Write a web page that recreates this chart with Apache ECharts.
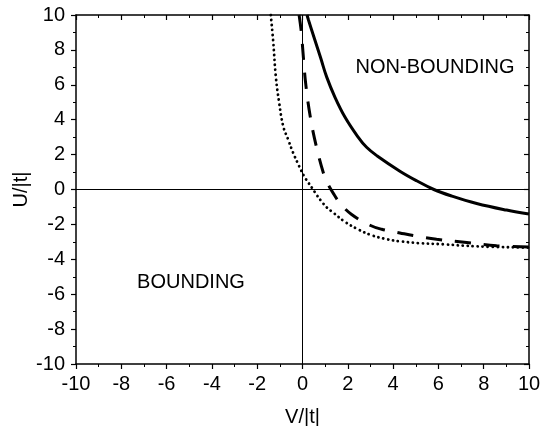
<!DOCTYPE html>
<html>
<head>
<meta charset="utf-8">
<script src="https://cdn.jsdelivr.net/npm/echarts@6/dist/echarts.min.js"></script>
<style>
  html, body { margin: 0; padding: 0; background: #fff; }
  #chart-container { width: 548px; height: 426px; }
</style>
</head>
<body>
<div id="chart-container"></div>
<script>
// curves (V/|t| , U/|t|)
const solidV = [0.2, 0.26, 0.55, 0.80, 1.07, 1.43, 1.88, 2.43, 2.83, 3.3, 4.30, 5.04, 5.8, 6.6, 7.69, 9.01, 10];
const solidU = [10, 9.73, 8.55, 7.55, 6.44, 5.3, 4.14, 3.05, 2.42, 1.92, 1.05, 0.5, 0, -0.38, -0.80, -1.18, -1.41];

const dashV = [-0.15, -0.05, 0.02, 0.14, 0.34, 0.61, 0.98, 1.14, 1.4, 1.66, 2.17, 2.98, 3.5, 4.30, 4.89, 5.92, 7.25, 8.57, 10];
const dashU = [10, 9.0, 7.89, 6.08, 4.2, 2.47, 0.7, 0.26, -0.3, -0.80, -1.43, -2.05, -2.28, -2.49, -2.64, -2.85, -3.04, -3.22, -3.3];

const dotV = [-1.40, -1.29, -1.18, -1.04, -0.85, -0.63, -0.41, -0.21, -0.07, 0.08, 0.26, 0.43, 0.63, 0.85, 1.07, 1.36, 1.88, 2.46, 3.05, 3.72, 4.30, 5.11, 6.22, 7.69, 10];
const dotU = [10, 8.43, 6.5, 5.06, 3.62, 2.85, 2.09, 1.51, 1.12, 0.74, 0.39, 0.07, -0.32, -0.70, -1.03, -1.33, -1.86, -2.29, -2.62, -2.85, -2.97, -3.07, -3.14, -3.26, -3.33];

const axisMin = -10;
const axisMax = 10;
const axisStep = 2;
const xName = 'V/|t|';
const yName = 'U/|t|';
const regionLabels = ['NON-BOUNDING', 'BOUNDING'];

const font = '"Liberation Sans", Arial, sans-serif';

function pairs(xs, ys) {
    return xs.map((x, i) => [x, ys[i]]);
}

function mainAxis(name, isX) {
    return {
        type: 'value',
        min: axisMin, max: axisMax, interval: axisStep,
        position: isX ? 'bottom' : 'left',
        name: name,
        nameLocation: 'middle',
        nameGap: isX ? 43 : 45,
        nameMoveOverlap: false,
        nameTextStyle: { fontFamily: font, fontSize: 20, color: '#000' },
        axisLine: { show: true, onZero: false, lineStyle: { color: '#000', width: 1.5 } },
        axisTick: { show: true, inside: false, length: 5, lineStyle: { color: '#000', width: 1.2 } },
        minorTick: { show: true, splitNumber: 2, length: 3, lineStyle: { color: '#000', width: 1 } },
        axisLabel: { fontFamily: font, fontSize: 20, color: '#000', margin: isX ? 10 : 11 },
        splitLine: { show: false },
        minorSplitLine: { show: false }
    };
}

function mirrorAxis(isX) {
    return {
        type: 'value',
        min: axisMin, max: axisMax, interval: axisStep,
        position: isX ? 'top' : 'right',
        axisLine: { show: true, onZero: false, lineStyle: { color: '#000', width: 1.5 } },
        axisTick: { show: true, inside: true, length: 5, lineStyle: { color: '#000', width: 1.2 } },
        minorTick: { show: true, splitNumber: 2, length: 3, lineStyle: { color: '#000', width: 1 } },
        axisLabel: { show: false },
        splitLine: { show: false }
    };
}

const dom = document.getElementById('chart-container');
const myChart = echarts.init(dom, null, { renderer: 'canvas' });

const curveBase = {
    type: 'line',
    showSymbol: false,
    smooth: 0.4,
    silent: true,
    animation: false,
    clip: true
};

const option = {
    animation: false,
    backgroundColor: '#fff',
    grid: { left: 76, top: 15, width: 453, height: 349, containLabel: false, outerBoundsMode: 'none' },
    xAxis: [mainAxis(xName, true), mirrorAxis(true)],
    yAxis: [mainAxis(yName, false), mirrorAxis(false)],
    series: [
        Object.assign({}, curveBase, {
            name: 'solid',
            data: pairs(solidV, solidU),
            lineStyle: { color: '#000', width: 3 },
            markLine: {
                silent: true,
                symbol: 'none',
                label: { show: false },
                lineStyle: { color: '#000', width: 1, type: 'solid' },
                data: [{ xAxis: 0 }, { yAxis: 0 }]
            }
        }),
        Object.assign({}, curveBase, {
            name: 'dashed',
            data: pairs(dashV, dashU),
            lineStyle: { color: '#000', width: 3, type: [16, 13] }
        }),
        Object.assign({}, curveBase, {
            name: 'dotted',
            data: pairs(dotV, dotU),
            lineStyle: { color: '#000', width: 2.8, type: [0.1, 4.9], cap: 'round' }
        })
    ],
    graphic: [
        {
            type: 'text', x: 435, y: 67,
            style: { text: regionLabels[0], font: '20px ' + font, fill: '#000', align: 'center', verticalAlign: 'middle' }
        },
        {
            type: 'text', x: 191, y: 282,
            style: { text: regionLabels[1], font: '20px ' + font, fill: '#000', align: 'center', verticalAlign: 'middle' }
        }
    ]
};

myChart.setOption(option);
</script>
</body>
</html>
